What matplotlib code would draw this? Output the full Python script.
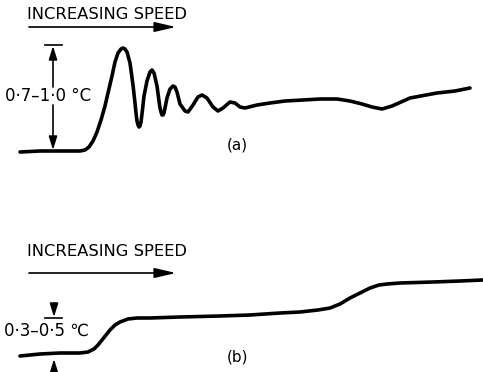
import matplotlib.pyplot as plt

# Trace (a): temperature response with decaying oscillation
curve_a_x = [20, 40, 60, 80, 85, 89, 93, 97, 101, 105, 108, 112, 115, 118, 121, 123,
             125, 127, 130, 133, 135, 136, 137, 138, 139, 140, 141, 142, 144, 147, 150,
             152, 154, 157, 159, 160, 161, 162, 163, 164, 165, 167, 170, 173, 175, 177,
             180, 185, 188, 193, 198, 202, 207, 213, 218, 223, 230, 235, 240, 245, 257,
             270, 285, 303, 320, 337, 350, 362, 372, 382, 392, 410, 437, 455, 470]
curve_a_y = [152, 151, 151, 151, 150, 147, 141, 132, 120, 106, 93, 76, 62, 53, 49, 48,
             49, 52, 63, 85, 103, 113, 121, 125, 127, 126, 122, 114, 96, 81, 72,
             70, 73, 86, 101, 108, 112, 115, 115, 113, 108, 98, 89, 86, 87, 92,
             104, 111, 112, 105, 97, 95, 98, 107, 111, 108, 102, 103, 107, 108, 105,
             103, 101, 100, 99, 99, 101, 104, 107, 109, 106, 98, 93, 91, 88]

# Trace (b): stepwise rise with speed
curve_b_x = [20, 40, 60, 80, 88, 94, 98, 102, 106, 110, 115, 120, 128, 137, 150, 180,
             220, 250, 280, 300, 318, 330, 340, 350, 360, 370, 379, 387, 400, 433, 460, 483]
curve_b_y = [356, 354, 353, 353, 352, 349, 345, 340, 335, 330, 325, 322, 319, 318, 318, 317,
             316, 315, 313, 312, 310, 308, 304, 298, 293, 288, 285, 284, 283, 282, 281, 280]

title_text = "INCREASING SPEED"
range_a = "0·7–1·0 °C"
range_b = "0·3–0·5 ℃"

fig = plt.figure(figsize=(4.83, 3.72), dpi=100)
ax = fig.add_axes([0, 0, 1, 1])
ax.set_xlim(0, 483)
ax.set_ylim(372, 0)
ax.axis("off")

ink = "black"
line_kw = dict(color=ink, lw=2.6, solid_capstyle="round", solid_joinstyle="round")

ax.plot(curve_a_x, curve_a_y, **line_kw)
ax.plot(curve_b_x, curve_b_y, **line_kw)

head = dict(arrowstyle="-|>,head_length=1.3,head_width=0.3", color=ink, lw=1.2,
            shrinkA=0, shrinkB=0)
small_head = dict(arrowstyle="-|>,head_length=0.8,head_width=0.25", color=ink, lw=1.2,
                  shrinkA=0, shrinkB=0)

for y_text, y_arrow in [(19, 27), (256, 273)]:
    ax.text(27, y_text, title_text, fontsize=11.8, ha="left", va="baseline")
    ax.annotate("", xy=(176, y_arrow), xytext=(29, y_arrow), arrowprops=head)

# dimension marks for (a)
ax.plot([45, 62], [45, 45], color=ink, lw=1.2)
ax.annotate("", xy=(53, 46), xytext=(53, 87), arrowprops=small_head)
ax.annotate("", xy=(53, 150), xytext=(53, 105), arrowprops=small_head)
ax.text(48, 101, range_a, fontsize=12, ha="center", va="baseline")
ax.text(237, 145, "(a)", fontsize=11, ha="center", va="center")

# dimension marks for (b)
ax.plot([45, 62], [318, 318], color=ink, lw=1.2)
ax.annotate("", xy=(54, 317), xytext=(54, 303), arrowprops=small_head)
ax.annotate("", xy=(54, 359), xytext=(54, 372), arrowprops=small_head)
ax.text(46, 336, range_b, fontsize=12, ha="center", va="baseline")
ax.text(238, 357, "(b)", fontsize=11, ha="center", va="center")

fig.savefig("out.png", dpi=100)
